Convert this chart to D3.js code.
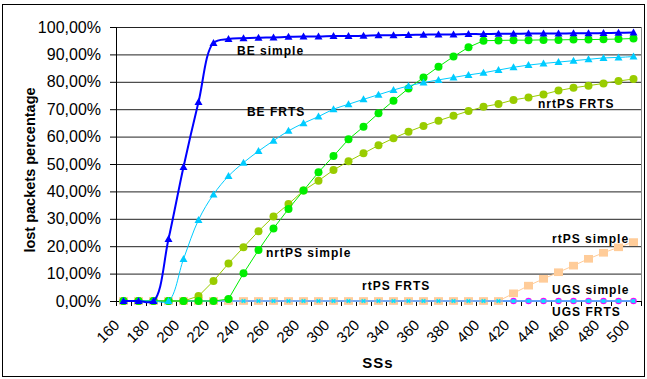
<!DOCTYPE html>
<html>
<head>
<meta charset="utf-8">
<script src="https://cdn.jsdelivr.net/npm/d3@7"></script>
<style>
  body { margin: 0; background: #fff; }
  svg { display: block; font-family: "Liberation Sans", Arial, sans-serif; }
  .series-label { font-weight: bold; font-size: 12px; letter-spacing: 1px; }
</style>
</head>
<body>
<svg id="chart" width="647" height="379"></svg>
<script>
// number of SSs (one category every 10)
const ssCount = [160, 170, 180, 190, 200, 210, 220, 230, 240, 250, 260, 270, 280, 290, 300, 310, 320,
  330, 340, 350, 360, 370, 380, 390, 400, 410, 420, 430, 440, 450, 460, 470, 480, 490, 500];
// only every second category gets a label
const xTickLabels = [160, 180, 200, 220, 240, 260, 280, 300, 320, 340, 360, 380, 400, 420, 440, 460, 480, 500];
const yTicks = [0, 10, 20, 30, 40, 50, 60, 70, 80, 90, 100];

// lost packets percentage per series
const ugsSimple = [0, 0, 0, 0, 0, 0, 0, 0, 0, 0, 0, 0, 0, 0, 0, 0, 0, 0, 0, 0, 0, 0, 0, 0, 0, 0, 0, 0, 0, 0, 0, 0, 0, 0, 0];
const ugsFrts = [0, 0, 0, 0, 0, 0, 0, 0, 0, 0, 0, 0, 0, 0, 0, 0, 0, 0, 0, 0, 0, 0, 0, 0, 0, 0, 0, 0, 0, 0, 0, 0, 0, 0, 0];
const rtpsSimple = [0, 0, 0, 0, 0, 0, 0, 0, 0, 0, 0, 0, 0, 0, 0, 0, 0, 0, 0, 0, 0, 0, 0, 0, 0, 0,
  2.8, 5.6, 8.1, 10.5, 12.9, 15.4, 17.6, 19.6, 21.5];
const rtpsFrts = [0, 0, 0, 0, 0, 0, 0, 0, 0, 0, 0, 0, 0, 0, 0, 0, 0, 0, 0, 0, 0, 0, 0, 0, 0, 0, 0, 0, 0, 0, 0, 0, 0, 0, 0];
const nrtpsFrts = [0, 0, 0, 0, 0, 1.8, 7.3, 13.7, 19.6, 25.5, 30.8, 35.4, 40.3, 43.9, 47.8, 51.0, 53.9,
  56.8, 59.4, 61.8, 63.9, 65.8, 67.6, 69.3, 70.9, 71.9, 73.4, 74.3, 75.4, 76.8, 77.8, 78.6, 79.4, 80.3, 81.0];
const nrtpsSimple = [0, 0, 0, 0, 0, 0, 0, 0.7, 10.1, 18.6, 26.5, 33.6, 40.3, 47.0, 52.9, 59.0, 63.6,
  68.5, 73.1, 77.6, 81.6, 85.5, 89.2, 92.6, 95.0, 95.1, 95.2, 95.2, 95.3, 95.3, 95.4, 95.4, 95.5, 95.6, 95.8];
const beFrts = [0, 0, 0, 0, 15.3, 29.6, 38.9, 45.6, 50.5, 54.7, 58.5, 62.1, 64.9, 67.3, 70.0, 71.8, 73.6,
  75.3, 77.0, 78.5, 79.7, 80.7, 81.6, 82.5, 83.3, 84.3, 85.3, 86.1, 86.7, 87.2, 87.7, 88.2, 88.7, 88.9, 89.2];
const beSimple = [0, 0, 0, 22.6, 48.9, 72.6, 94.2, 95.6, 95.9, 96.1, 96.2, 96.4, 96.5, 96.5, 96.7, 96.7, 96.8,
  97.0, 97.0, 97.1, 97.2, 97.3, 97.3, 97.4, 97.4, 97.5, 97.5, 97.6, 97.6, 97.6, 97.7, 97.7, 97.8, 97.9, 98.0];

// drawing order matters: later series sit on top
const series = [
  { name: "UGS simple", values: ugsSimple, color: "#ff00ff", line: "#ff00ff", marker: "circle", size: 5, width: 1 },
  { name: "UGS FRTS", values: ugsFrts, color: "#3399ff", line: "#3399ff", marker: "none", size: 0, width: 1.5 },
  { name: "rtPS simple", values: rtpsSimple, color: "#ffcc99", line: "#ffcc99", marker: "square", size: 9, width: 1 },
  { name: "rtPS FRTS", values: rtpsFrts, color: "#00e5ff", line: "#66aaff", marker: "x", size: 6, width: 1.5 },
  { name: "nrtPS FRTS", values: nrtpsFrts, color: "#99cc00", line: "#99cc00", marker: "circle", size: 8, width: 1 },
  { name: "nrtPS simple", values: nrtpsSimple, color: "#00ee00", line: "#00ee00", marker: "circle", size: 8, width: 1 },
  { name: "BE FRTS", values: beFrts, color: "#00ccff", line: "#00ccff", marker: "triangle", size: 8, width: 1, smooth: true },
  { name: "BE simple", values: beSimple, color: "#0000ff", line: "#0000ff", marker: "triangle", size: 8, width: 2, smooth: true }
];

// text annotations, placed in (category index, value) units
const annotations = [
  { text: "BE simple", at: [8.07, 89.8] },
  { text: "BE FRTS", at: [8.73, 67.5] },
  { text: "nrtPS FRTS", at: [28.13, 70.3] },
  { text: "nrtPS simple", at: [10.0, 16.1] },
  { text: "rtPS FRTS", at: [16.4, 4.0] },
  { text: "rtPS simple", at: [29.07, 21.2] },
  { text: "UGS simple", at: [29.07, 2.6] },
  { text: "UGS FRTS", at: [29.07, -5.5] }
];

const svg = d3.select("#chart");
const plot = { left: 116, right: 641, top: 27, bottom: 301 };

// outer frame
svg.append("rect")
  .attr("x", 2.5).attr("y", 4.5)
  .attr("width", 642).attr("height", 372)
  .attr("fill", "none").attr("stroke", "#000");

const x = d3.scaleBand()
  .domain(ssCount)
  .range([plot.left, plot.right])
  .padding(0);
const xc = d => x(d) + x.bandwidth() / 2;
const xi = d3.scaleLinear().domain([0, ssCount.length]).range([plot.left, plot.right]);

const y = d3.scaleLinear()
  .domain([0, 100])
  .range([plot.bottom, plot.top]);

// gridlines
svg.append("g")
  .attr("transform", `translate(${plot.left},0)`)
  .call(d3.axisLeft(y).tickValues(yTicks.slice(1)).tickSize(-(plot.right - plot.left)).tickFormat(""))
  .call(g => g.select(".domain").remove())
  .call(g => g.selectAll("line").attr("stroke", "#222"));

// plot border (right side grey)
svg.append("line")
  .attr("x1", plot.right + 0.5).attr("x2", plot.right + 0.5)
  .attr("y1", plot.top).attr("y2", plot.bottom)
  .attr("stroke", "#888");

// Y axis
svg.append("g")
  .attr("transform", `translate(${plot.left},0)`)
  .call(d3.axisLeft(y).tickValues(yTicks).tickSize(6).tickPadding(9)
    .tickFormat(d => d.toFixed(2).replace(".", ",") + "%"))
  .call(g => g.select(".domain").attr("stroke", "#000"))
  .call(g => g.selectAll("text").attr("font-size", 16).attr("fill", "#000")
    .attr("font-family", "Liberation Sans, Arial, sans-serif"));

// X axis: tick marks between categories
svg.append("g")
  .attr("transform", `translate(0,${plot.bottom})`)
  .call(d3.axisBottom(xi).tickValues(d3.range(ssCount.length + 1)).tickSize(5).tickFormat(""))
  .call(g => g.select(".domain").attr("stroke", "#000"));

// X axis labels, rotated
svg.append("g")
  .attr("transform", `translate(0,${plot.bottom})`)
  .call(d3.axisBottom(x).tickValues(xTickLabels).tickSize(0).tickPadding(0))
  .call(g => g.select(".domain").remove())
  .call(g => g.selectAll("text")
    .attr("font-size", 15)
    .attr("font-family", "Liberation Sans, Arial, sans-serif")
    .attr("fill", "#000")
    .attr("text-anchor", "end")
    .attr("y", 0).attr("dy", 0)
    .attr("transform", "translate(-3,25) rotate(-45)"));

// axis titles
svg.append("text")
  .attr("text-anchor", "middle")
  .attr("transform", `translate(35,${(plot.top + plot.bottom) / 2 + 6}) rotate(-90)`)
  .attr("font-weight", "bold").attr("font-size", 14.5)
  .text("lost packets percentage");

svg.append("text")
  .attr("x", 378).attr("y", 368)
  .attr("text-anchor", "middle")
  .attr("font-weight", "bold").attr("font-size", 15)
  .attr("letter-spacing", 1)
  .text("SSs");

// series lines and markers
series.forEach(s => {
  const pts = s.values.map((v, i) => [xc(ssCount[i]), y(v)]);
  const line = d3.line().curve(s.smooth ? d3.curveCatmullRom : d3.curveLinear);
  svg.append("path")
    .attr("d", line(pts))
    .attr("fill", "none")
    .attr("stroke", s.line)
    .attr("stroke-width", s.width);

  const g = svg.append("g");
  pts.forEach(([px, py]) => {
    const r = s.size / 2;
    if (s.marker === "circle") {
      g.append("circle").attr("cx", px).attr("cy", py).attr("r", r)
        .attr("fill", s.name === "UGS simple" ? "#00ffff" : s.color)
        .attr("stroke", s.name === "UGS simple" ? "#ff00ff" : "none")
        .attr("stroke-width", 1.5);
    } else if (s.marker === "square") {
      g.append("rect").attr("x", px - r).attr("y", py - r * 0.85)
        .attr("width", s.size).attr("height", s.size * 0.85).attr("fill", s.color);
    } else if (s.marker === "triangle") {
      g.append("path")
        .attr("d", `M${px},${py - r}L${px + r},${py + r * 0.75}L${px - r},${py + r * 0.75}Z`)
        .attr("fill", s.color);
    } else if (s.marker === "x") {
      g.append("path")
        .attr("d", `M${px - r * 0.6},${py - r * 0.6}L${px + r * 0.6},${py + r * 0.6}M${px - r * 0.6},${py + r * 0.6}L${px + r * 0.6},${py - r * 0.6}`)
        .attr("stroke", s.color).attr("stroke-width", 1.5);
    }
  });
});

// annotations
svg.append("g").selectAll("text")
  .data(annotations)
  .join("text")
  .attr("class", "series-label")
  .attr("x", d => xi(d.at[0]))
  .attr("y", d => y(d.at[1]))
  .text(d => d.text);
</script>
</body>
</html>
